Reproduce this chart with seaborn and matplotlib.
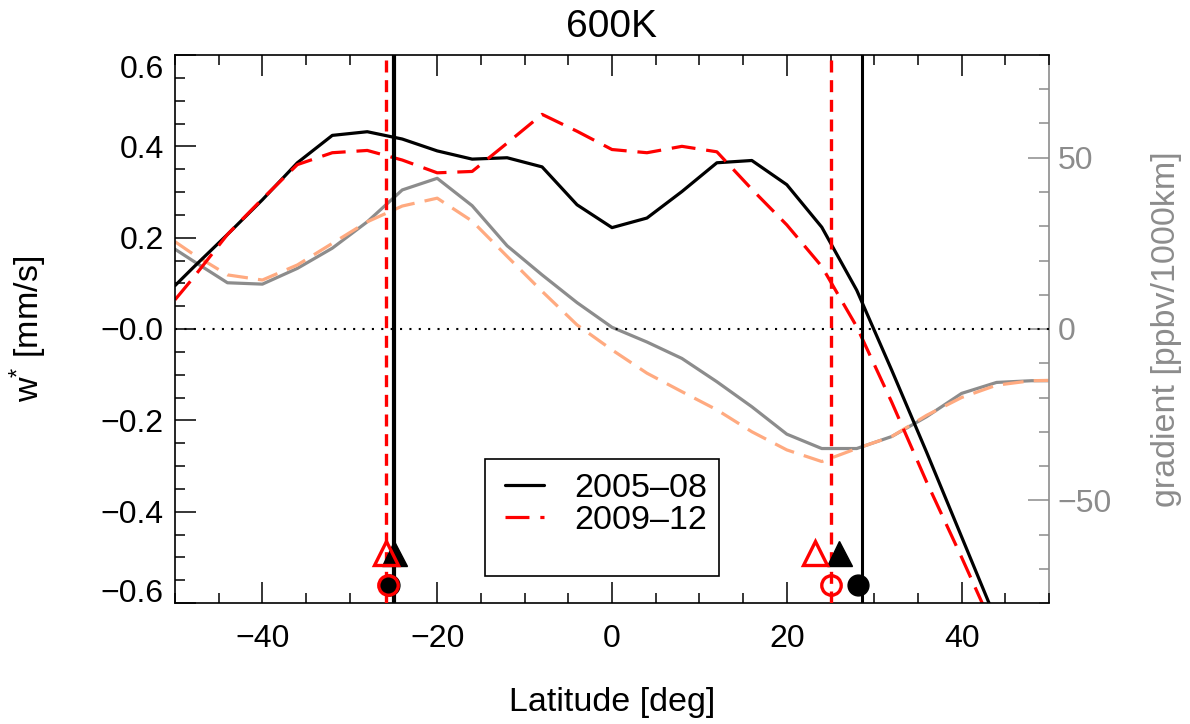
import numpy as np
import pandas as pd
import matplotlib
matplotlib.use("Agg")
import matplotlib.pyplot as plt
import matplotlib.transforms as mtransforms
from matplotlib.ticker import MultipleLocator
from matplotlib.patches import Rectangle
from matplotlib.lines import Line2D
import seaborn as sns

# ---------------- data ----------------
lat = [-50, -48, -44, -40, -36, -32, -28, -24, -20, -16, -12, -8, -4, 0,
       4, 8, 12, 16, 20, 24, 28, 32, 36, 40, 44, 48, 50]
wstar_0508 = [0.095, 0.133, 0.207, 0.283, 0.364, 0.424, 0.432, 0.416, 0.390,
              0.372, 0.375, 0.355, 0.272, 0.222, 0.243, 0.301, 0.364, 0.369,
              0.316, 0.223, 0.085, -0.090, -0.270, -0.455, -0.640, -0.820, -0.910]
wstar_0912 = [0.064, 0.110, 0.207, 0.285, 0.360, 0.386, 0.391, 0.370, 0.342,
              0.345, 0.407, 0.470, 0.433, 0.393, 0.386, 0.400, 0.388, 0.306,
              0.228, 0.137, 0.005, -0.160, -0.335, -0.500, -0.670, -0.850, -0.940]
grad_0508 = [23.3, 20.0, 13.5, 13.1, 17.7, 23.6, 31.3, 40.6, 44.0, 36.0, 24.3,
             15.8, 7.7, 0.5, -3.8, -8.6, -15.4, -22.7, -30.7, -34.9, -34.9,
             -31.4, -25.6, -18.8, -15.6, -15.1, -15.1]
grad_0912 = [25.5, 22.0, 15.8, 14.3, 18.7, 25.0, 31.3, 35.9, 38.2, 31.5, 21.2,
             11.0, 1.2, -6.1, -12.9, -18.3, -23.6, -30.0, -35.3, -38.7, -34.9,
             -31.4, -25.2, -20.0, -16.4, -15.1, -15.0]

edge_0508 = [-25.0, 28.6]     # vertical solid lines
edge_0912 = [-25.9, 25.0]     # vertical dashed lines
tri_0508 = [-24.9, 26.0]
tri_0912 = [-25.9, 23.2]
circ_0508 = [-25.5, 28.2]
circ_0912 = [-25.6, 25.0]
tri_y = [-0.49, -0.49]
circ_y = [-0.56, -0.56]

series_labels = ["2005\u201308", "2009\u201312"]
left_ticks = [-0.6, -0.4, -0.2, 0.0, 0.2, 0.4, 0.6]
left_tick_labels = ["\u22120.6", "\u22120.4", "\u22120.2", "\u22120.0", "0.2", "0.4", "0.6"]
x_ticks = [-40, -20, 0, 20, 40]
x_tick_labels = ["\u221240", "\u221220", "0", "20", "40"]
right_ticks = [-50, 0, 50]
right_tick_labels = ["\u221250", "0", "50"]

df = pd.DataFrame({"lat": lat, "w0508": wstar_0508, "w0912": wstar_0912,
                   "g0508": grad_0508, "g0912": grad_0912})

# ---------------- style ----------------
sns.set_theme(style="ticks")
plt.rcParams["font.family"] = ["Liberation Sans", "DejaVu Sans"]
plt.rcParams["mathtext.fontset"] = "custom"
plt.rcParams["mathtext.rm"] = "Liberation Sans"
plt.rcParams["mathtext.it"] = "Liberation Sans:italic"
plt.rcParams["axes.unicode_minus"] = True
for k in ["text.color", "axes.labelcolor", "xtick.color", "ytick.color", "axes.edgecolor"]:
    plt.rcParams[k] = "black"

GRAY = "#8c8c8c"
SALMON = "#ffaa80"
TICK_FS = 23
LAB_FS = 24.5
LW = 2.3

fig = plt.figure(figsize=(11.9, 7.24), dpi=100)
ax = fig.add_axes([175 / 1190, 1 - 603 / 724, 874 / 1190, 548 / 724])
ax2 = ax.twinx()

# right axis (gradient) curves
sns.lineplot(data=df, x="lat", y="g0508", ax=ax2, color=GRAY, linewidth=LW,
             estimator=None, sort=False, legend=False)
sns.lineplot(data=df, x="lat", y="g0912", ax=ax2, color=SALMON, linewidth=LW,
             linestyle=(0, (6.5, 3.2)), estimator=None, sort=False, legend=False)

# left axis (w*) curves
ax.axhline(0.0, color="black", linewidth=1.5, linestyle=(0, (1, 3.5)), zorder=1)
sns.lineplot(data=df, x="lat", y="w0508", ax=ax, color="black", linewidth=LW,
             estimator=None, sort=False, legend=False)
sns.lineplot(data=df, x="lat", y="w0912", ax=ax, color="red", linewidth=LW,
             linestyle=(0, (7.5, 3.4)), estimator=None, sort=False, legend=False)

# vertical lines
ax.axvline(edge_0912[0], color="red", linewidth=2.4, linestyle=(0, (3.6, 2.3)), zorder=3)
ax.axvline(edge_0912[1], color="red", linewidth=2.4, linestyle=(0, (3.6, 2.3)), zorder=3)
ax.axvline(edge_0508[0], color="black", linewidth=3.0, zorder=3)
ax.axvline(edge_0508[1], color="black", linewidth=2.2, zorder=3)

# markers
ax.plot(tri_0508, tri_y, linestyle="none", marker="^", markersize=18,
        color="black", zorder=4, clip_on=False)
ax.plot(tri_0912, tri_y, linestyle="none", marker="^", markersize=17,
        markerfacecolor="none", markeredgecolor="red", markeredgewidth=2.4,
        zorder=5, clip_on=False)
ax.plot(circ_0508, circ_y, linestyle="none", marker="o", markersize=15,
        color="black", zorder=4, clip_on=False)
ax.plot(circ_0912, circ_y, linestyle="none", marker="o", markersize=14,
        markerfacecolor="none", markeredgecolor="red", markeredgewidth=2.4,
        zorder=5, clip_on=False)

# ---------------- axes setup ----------------
ax.set_xlim(-50, 50)
ax.set_ylim(-0.6, 0.6)
ax2.set_ylim(-80, 80)

ax.set_zorder(ax2.get_zorder() + 1)
ax.patch.set_visible(False)

ax.set_xticks(x_ticks, labels=x_tick_labels)
ax.set_yticks(left_ticks, labels=left_tick_labels)
ax.xaxis.set_minor_locator(MultipleLocator(5))
ax.yaxis.set_minor_locator(MultipleLocator(0.05))
ax.tick_params(axis="both", which="both", direction="in", top=True, right=False,
               colors="black", width=1.1)
ax.tick_params(axis="both", which="major", length=15, labelsize=TICK_FS)
ax.tick_params(axis="both", which="minor", length=7.5)
ax.tick_params(axis="x", which="major", pad=15)
ax.tick_params(axis="y", which="major", pad=8)
for s in ["left", "top", "bottom"]:
    ax.spines[s].set_color("black")
    ax.spines[s].set_linewidth(1.2)
ax.spines["right"].set_visible(False)

ax2.set_yticks(right_ticks, labels=right_tick_labels)
ax2.yaxis.set_minor_locator(MultipleLocator(10))
ax2.tick_params(axis="y", which="both", direction="in", colors=GRAY, width=1.1)
ax2.tick_params(axis="y", which="major", length=15, labelsize=TICK_FS, pad=6)
ax2.tick_params(axis="y", which="minor", length=7.5)
for s in ["left", "top", "bottom"]:
    ax2.spines[s].set_visible(False)
ax2.spines["right"].set_color(GRAY)
ax2.spines["right"].set_linewidth(1.2)

ax.set_title("600K", fontsize=28, pad=13, color="black")
ax.set_xlabel("Latitude [deg]", fontsize=LAB_FS, color="black")
ax.xaxis.set_label_coords(0.5, -0.153)
ax.set_ylabel("w$^{*}$ [mm/s]", fontsize=LAB_FS, color="black")
ax.yaxis.set_label_coords(-0.144, 0.5)
ax2.set_ylabel("gradient [ppbv/1000km]", fontsize=LAB_FS, color=GRAY)
ax2.yaxis.set_label_coords(1.117, 0.5)

# legend
box = Rectangle((0.3547, 0.0493), 0.268, 0.2135, transform=ax.transAxes,
                facecolor="white", edgecolor="black", linewidth=1.2, zorder=6)
ax.add_patch(box)
handles = [Line2D([], [], color="black", linewidth=LW),
           Line2D([], [], color="red", linewidth=LW, linestyle=(0, (7.5, 3.4)))]
leg = ax.legend(handles, series_labels, loc="upper left",
                bbox_to_anchor=(0.3776, 0.2378), frameon=False, fontsize=LAB_FS,
                borderpad=0, borderaxespad=0, handlelength=1.14,
                handletextpad=0.9, labelspacing=0.05)
for t in leg.get_texts():
    t.set_color("black")
leg.set_zorder(7)

# shift end tick labels inward (as in the reference)
labs = ax.get_yticklabels()
labs[-1].set_transform(labs[-1].get_transform() +
                       mtransforms.ScaledTranslation(0, -11 / 100, fig.dpi_scale_trans))
labs[0].set_transform(labs[0].get_transform() +
                      mtransforms.ScaledTranslation(0, 12 / 100, fig.dpi_scale_trans))

fig.savefig("out.png", dpi=100)
